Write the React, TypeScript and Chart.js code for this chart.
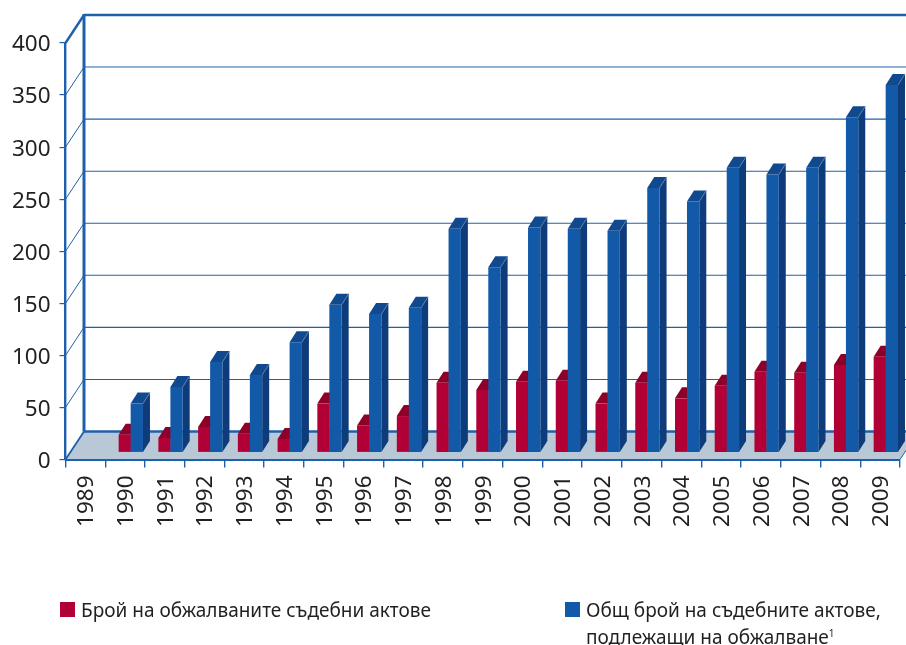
import React, { useEffect, useRef } from "react";
import { Chart, registerables } from "chart.js";

Chart.register(...registerables);

const years = ["1989","1990","1991","1992","1993","1994","1995","1996","1997","1998","1999","2000","2001","2002","2003","2004","2005","2006","2007","2008","2009"];
const appealed = [null,17,14,24.5,18,13,47,26,35,67,60,68,69,47,67,52,64,77.5,76.5,84,92];
const total = [null,47,63,87,74.5,106,142,133,139,215,178,216,215,213,254,241,273.5,267,273.5,322,353];
const legendAppealed = "Брой на обжалваните съдебни актове";
const legendTotal1 = "Общ брой на съдебните актове,";
const legendTotal2 = "подлежащи на обжалване";

const BLUE = "#1259a8", BLUE_SIDE = "#0e3c7a", BLUE_TOP = "#11498f";
const RED = "#b10035", RED_SIDE = "#8d0029", RED_TOP = "#8d0029";
const LINE = "#1f60ad", FLOOR = "#b8c8d6", TEXT = "#231f20";
const WALL_DX = 18.5, WALL_DY = 28;
const BAR_DX = 7, BAR_DY = 11, SHIFT_Y = -7;
const FONT = '"Noto Sans", sans-serif';

const shifts: Record<number, number> = { 0: 11.7, 1: -0.3 };
const faces: Record<number, { side: string; top: string; edge: string }> = {
  0: { side: BLUE_SIDE, top: BLUE_TOP, edge: "#5d83b5" },
  1: { side: RED_SIDE, top: RED_TOP, edge: RED_SIDE },
};

const scene3d = {
  id: "scene3d",
  beforeDraw(chart: any) {
    const { ctx, scales } = chart;
    const { left, right, top, bottom } = chart.chartArea;
    const W = chart.width;
    ctx.save();
    ctx.fillStyle = FLOOR;
    ctx.beginPath();
    ctx.moveTo(left, bottom);
    ctx.lineTo(left + WALL_DX, bottom - WALL_DY);
    ctx.lineTo(W, bottom - WALL_DY);
    ctx.lineTo(W, bottom - ((W - right) * WALL_DY) / WALL_DX);
    ctx.lineTo(right, bottom);
    ctx.closePath();
    ctx.fill();
    ctx.strokeStyle = LINE;
    for (const t of scales.y.ticks) {
      const y = scales.y.getPixelForValue(t.value);
      const heavy = t.value === 0 || t.value === 400;
      ctx.lineWidth = heavy ? 2.6 : 1.1;
      ctx.beginPath();
      ctx.moveTo(left + WALL_DX, y - WALL_DY);
      ctx.lineTo(W, y - WALL_DY);
      ctx.stroke();
      ctx.lineWidth = t.value === 400 ? 2.4 : t.value === 0 ? 1.8 : 1;
      ctx.beginPath();
      ctx.moveTo(left, y);
      ctx.lineTo(left + WALL_DX, y - WALL_DY);
      ctx.stroke();
    }
    ctx.lineWidth = 3;
    ctx.beginPath();
    ctx.moveTo(left + WALL_DX, top - WALL_DY - 1);
    ctx.lineTo(left + WALL_DX, bottom - WALL_DY);
    ctx.stroke();
    ctx.lineWidth = 1;
    ctx.beginPath();
    ctx.moveTo(right, bottom);
    ctx.lineTo(W, bottom - ((W - right) * WALL_DY) / WALL_DX);
    ctx.stroke();
    ctx.restore();
  },
  beforeDatasetDraw(chart: any, args: any) {
    const { ctx } = chart;
    const f = faces[args.index];
    const values = chart.data.datasets[args.index].data;
    ctx.save();
    ctx.translate(shifts[args.index], SHIFT_Y);
    args.meta.data.forEach((el: any, i: number) => {
      if (values[i] == null) return;
      const { x, y, base, width } = el.getProps(["x", "y", "base", "width"], true);
      const l = x - width / 2, r = x + width / 2;
      ctx.fillStyle = f.side;
      ctx.beginPath();
      ctx.moveTo(r, y);
      ctx.lineTo(r + BAR_DX, y - BAR_DY);
      ctx.lineTo(r + BAR_DX, base - BAR_DY);
      ctx.lineTo(r, base);
      ctx.closePath();
      ctx.fill();
      ctx.fillStyle = f.top;
      ctx.beginPath();
      ctx.moveTo(l, y);
      ctx.lineTo(l + BAR_DX, y - BAR_DY);
      ctx.lineTo(r + BAR_DX, y - BAR_DY);
      ctx.lineTo(r, y);
      ctx.closePath();
      ctx.fill();
      ctx.strokeStyle = f.edge;
      ctx.lineWidth = 0.8;
      ctx.beginPath();
      ctx.moveTo(r, y);
      ctx.lineTo(r + BAR_DX, y - BAR_DY);
      ctx.stroke();
    });
  },
  afterDatasetDraw(chart: any) {
    chart.ctx.restore();
  },
};

const squareStyle = (left: number, color: string): React.CSSProperties => ({
  position: "absolute", left, top: 602, width: 15, height: 15, background: color,
});
const textStyle = (left: number, top: number): React.CSSProperties => ({
  position: "absolute", left, top, fontFamily: FONT, fontSize: 19, lineHeight: "26px",
  color: TEXT, whiteSpace: "nowrap",
});

export default function App() {
  const ref = useRef<HTMLCanvasElement>(null);
  useEffect(() => {
    const chart = new Chart(ref.current!, {
      type: "bar",
      data: {
        labels: years,
        datasets: [
          { label: "Общ брой", data: total, backgroundColor: BLUE, order: 0, grouped: false, clip: false },
          { label: "Брой", data: appealed, backgroundColor: RED, order: 1, grouped: false, clip: false },
        ] as any,
      },
      options: {
        responsive: false,
        animation: false,
        events: [],
        layout: { padding: { top: 43, right: 6, left: 0, bottom: 0 } },
        datasets: { bar: { categoryPercentage: 0.31, barPercentage: 1 } },
        plugins: { legend: { display: false }, tooltip: { enabled: false }, title: { display: false } },
        scales: {
          x: {
            offset: true,
            afterFit: (s: any) => { s.height = 185.5; s.paddingLeft = 0; s.paddingRight = 0; },
            grid: { offset: true, drawOnChartArea: false, color: LINE, tickLength: 8, lineWidth: 1.4 },
            border: { color: LINE, width: 2 },
            ticks: {
              autoSkip: false, minRotation: 90, maxRotation: 90, padding: 8, labelOffset: 1.5,
              color: TEXT, font: { family: FONT, size: 22.5 },
            },
          },
          y: {
            min: 0, max: 400,
            afterFit: (s: any) => { s.width = 65.5; s.paddingTop = 0; s.paddingBottom = 0; },
            grid: { drawOnChartArea: false, color: LINE, tickLength: 6, lineWidth: 1.2 },
            border: { color: LINE, width: 2.4 },
            ticks: { stepSize: 50, padding: 9, labelOffset: 2, color: TEXT, font: { family: FONT, size: 22.5 } },
          },
        },
      } as any,
      plugins: [scene3d as any],
    });
    return () => chart.destroy();
  }, []);
  return (
    <div style={{ position: "absolute", left: 0, top: 0, width: 906, height: 645, overflow: "hidden", background: "#fff" }}>
      <canvas ref={ref} width={906} height={645} style={{ display: "block" }} />
      <div style={squareStyle(60, RED)} />
      <div style={textStyle(81, 597)}>{legendAppealed}</div>
      <div style={squareStyle(565, BLUE)} />
      <div style={textStyle(586, 597)}>{legendTotal1}</div>
      <div style={textStyle(586, 624)}>
        {legendTotal2}<sup style={{ fontSize: 10, lineHeight: 0 }}>1</sup>
      </div>
    </div>
  );
}
